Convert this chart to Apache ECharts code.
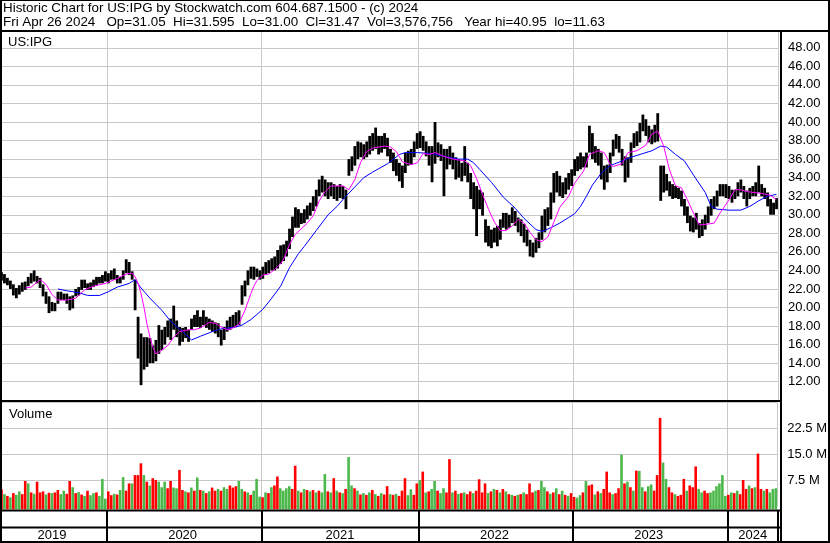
<!DOCTYPE html>
<html><head><meta charset="utf-8">
<script src="https://cdn.jsdelivr.net/npm/echarts@6/dist/echarts.min.js"></script>
<style>html,body{margin:0;padding:0;background:#fff}#c{width:830px;height:543px}</style>
</head><body><div id="c"></div>
<script>
// ---- data (weekly) ----
const firstWeek = '2019-04-26';
const headerLine1 = 'Historic Chart for US:IPG by Stockwatch.com 604.687.1500 - (c) 2024';
const headerLine2 = 'Fri Apr 26 2024   Op=31.05  Hi=31.595  Lo=31.00  Cl=31.47  Vol=3,576,756   Year hi=40.95  lo=11.63';
const symbolLabel = 'US:IPG';
const volumeLabel = 'Volume';

const weekHigh = [
23.8,23.6,23.2,22.9,22.5,22.1,22.4,22.7,22.8,23.3,
23.7,24.0,23.4,23.2,22.5,21.7,21.2,20.6,20.5,21.7,
21.7,21.5,21.5,21.2,21.3,22.0,22.2,23.0,23.0,22.6,
22.7,23.0,23.3,23.3,23.5,23.9,23.7,24.0,24.2,23.5,
23.3,24.0,25.2,24.9,23.9,23.0,19.0,17.2,16.8,16.8,
16.7,15.9,16.5,18.1,17.6,17.9,18.6,18.8,20.2,18.6,
17.9,17.8,17.9,17.6,18.8,19.2,19.7,19.0,19.7,19.0,
18.8,18.6,18.4,18.3,17.6,17.9,18.6,19.0,19.2,19.5,
19.7,22.4,22.9,24.0,24.4,24.4,24.2,24.0,24.4,24.9,
25.1,25.3,25.5,26.2,26.7,26.8,27.2,28.5,29.8,30.8,
30.6,30.2,30.6,31.0,31.3,32.0,32.7,33.8,34.2,33.8,
33.5,33.5,33.3,33.1,33.3,33.1,32.7,36.0,36.3,37.4,
37.9,37.8,37.6,37.9,38.5,38.8,39.4,38.5,38.5,38.8,
38.3,37.1,36.7,36.0,35.6,35.3,36.7,36.9,37.1,37.9,
38.8,39.0,38.5,37.9,37.4,37.4,40.0,37.8,37.6,37.1,
37.1,37.4,36.7,36.2,36.0,35.6,37.4,35.6,34.5,33.5,
33.1,32.7,32.4,29.5,28.8,28.4,28.6,28.8,29.5,30.2,
30.2,30.0,30.8,30.4,29.7,29.5,29.0,28.4,27.3,27.0,
27.5,28.1,29.9,30.6,30.8,32.4,34.5,34.7,34.2,33.5,
34.0,34.5,34.9,36.0,36.3,36.7,36.3,36.7,39.6,38.8,
37.4,37.1,36.7,35.3,35.4,36.7,38.1,38.7,38.5,37.1,
36.3,36.2,37.8,38.8,39.0,39.9,40.8,40.3,39.6,39.2,
39.7,40.95,35.3,35.3,34.4,33.6,33.3,33.1,32.9,32.6,
31.7,30.9,29.9,29.7,30.2,29.1,29.5,30.0,30.9,31.7,
32.0,32.6,33.3,33.3,33.3,33.1,32.7,32.7,33.5,33.8,
33.1,32.6,32.9,33.1,33.5,35.3,33.3,32.9,32.4,31.7,
31.3,31.8];

const weekLow = [
22.9,22.6,22.4,22.0,21.3,21.0,21.4,21.7,21.9,22.3,
22.6,22.8,22.6,22.1,21.2,20.4,19.4,19.6,19.6,20.4,
20.8,20.8,20.4,19.7,19.9,21.2,21.3,21.9,22.1,21.9,
21.9,22.2,22.4,22.6,22.6,22.8,22.6,23.0,23.0,22.6,
22.6,23.0,23.7,23.5,23.0,19.7,14.5,11.63,13.3,13.6,
14.0,14.0,14.2,15.0,15.4,16.0,16.8,16.5,17.6,16.8,
15.9,16.3,16.7,16.3,17.6,17.9,17.9,17.8,18.1,17.8,
17.6,17.4,17.2,16.8,15.9,16.5,17.4,17.6,17.8,17.9,
18.1,20.3,21.2,22.4,23.1,23.0,23.3,23.0,23.1,23.5,
23.7,24.0,24.0,24.2,24.7,25.0,25.5,26.3,27.6,28.6,
28.6,29.0,29.1,29.5,29.9,30.4,30.9,32.0,32.4,32.0,
31.7,32.0,31.7,31.5,31.8,31.7,30.6,34.2,34.7,35.3,
36.0,36.2,36.0,36.2,36.5,36.9,37.1,36.5,36.7,37.1,
36.3,35.6,34.7,34.2,33.6,32.9,34.5,35.3,35.4,36.2,
37.1,37.2,36.9,36.3,35.3,33.5,35.5,36.2,35.8,32.0,
34.9,35.4,34.9,33.8,34.0,33.6,34.2,33.5,31.7,30.6,
27.7,30.6,29.9,27.0,26.6,26.4,27.0,26.6,27.3,28.6,
28.4,28.6,29.1,28.8,28.1,27.7,27.0,26.6,25.5,25.4,
25.9,26.4,27.3,28.1,28.8,29.5,31.3,32.4,32.0,31.8,
32.2,32.7,33.1,34.2,34.7,34.9,35.1,35.1,36.7,36.0,
35.6,35.3,33.8,32.7,33.5,34.5,36.3,37.1,36.7,35.3,
33.5,34.0,35.6,37.2,37.4,37.8,39.0,38.5,37.8,37.6,
37.8,37.9,31.5,32.4,32.6,32.0,31.7,31.8,31.7,30.9,
29.9,29.1,28.2,28.1,28.4,27.5,27.7,28.4,29.1,29.9,
30.6,30.9,32.0,32.0,31.8,31.7,31.3,31.7,32.0,32.4,
31.7,30.9,31.7,32.0,32.0,32.4,32.0,31.7,30.9,30.0,
30.0,30.6];

// moving averages: [week index, value]
const magentaMA = [[8,22.1],[10,22.2],[13,23.0],[15,22.5],[17,21.4],[19,20.8],[22,20.8],[25,21.0],[28,21.9],[31,22.3],[35,22.6],[38,23.0],[40,23.3],[42,23.6],[44,23.7],[45,23.3],[46,22.6],[47,21.5],[48,20.0],[49,18.2],[50,16.8],[51,15.7],[52,15.0],[54,15.4],[56,15.9],[58,16.8],[60,17.4],[63,17.6],[65,17.6],[67,17.8],[70,18.4],[72,18.3],[74,17.9],[76,17.6],[78,17.8],[80,18.2],[81,19.0],[82,19.7],[83,20.6],[84,21.5],[85,22.3],[86,22.9],[88,23.5],[90,23.6],[92,24.1],[94,24.7],[95,25.2],[97,26.8],[99,27.9],[103,29.1],[105,29.9],[107,31.5],[109,32.5],[111,33.1],[115,33.1],[117,32.7],[119,33.8],[121,35.7],[123,36.8],[125,37.2],[129,37.4],[131,37.3],[133,36.8],[135,35.7],[138,35.4],[140,35.6],[142,36.6],[144,36.5],[146,36.7],[149,36.3],[152,36.0],[156,35.8],[158,35.3],[160,33.9],[162,32.2],[164,30.6],[166,29.2],[168,28.3],[170,28.3],[172,28.8],[174,29.5],[176,29.1],[178,28.1],[180,27.3],[182,27.1],[184,27.6],[186,29.2],[188,30.8],[191,32.0],[193,33.4],[196,34.7],[198,36.5],[201,36.9],[203,36.7],[205,35.4],[206,35.2],[209,35.5],[211,36.7],[214,36.9],[217,37.5],[219,38.7],[221,39.0],[223,37.4],[225,34.8],[227,33.1],[229,32.9],[231,31.6],[233,30.2],[235,28.9],[238,29.0],[240,29.1],[242,30.2],[245,31.6],[247,32.7],[249,32.7],[251,32.5],[256,32.3],[259,32.1],[261,31.6]];

const blueMA = [[19,22.0],[22,21.8],[26,21.6],[29,21.3],[33,21.3],[36,21.7],[39,22.2],[43,22.6],[45,23.0],[47,22.1],[50,21.0],[54,19.7],[57,18.5],[61,17.4],[64,16.5],[67,16.9],[71,17.4],[74,17.7],[79,17.9],[81,18.1],[84,18.7],[88,19.8],[91,21.0],[94,22.3],[97,24.3],[100,25.8],[102,26.6],[106,28.3],[110,30.0],[113,30.9],[116,32.0],[119,33.0],[122,34.0],[125,34.6],[130,35.5],[134,36.5],[136,36.7],[140,36.7],[145,36.6],[149,36.3],[154,36.0],[157,36.0],[159,35.6],[161,34.9],[165,33.5],[169,31.9],[173,30.7],[176,29.6],[180,28.4],[182,28.2],[185,28.6],[188,29.1],[191,29.7],[193,30.1],[195,30.9],[197,32.0],[199,33.2],[202,34.5],[205,35.3],[209,35.8],[212,36.2],[216,36.6],[219,36.9],[222,37.4],[224,37.3],[227,36.5],[230,35.8],[233,34.3],[237,32.4],[239,30.9],[241,30.6],[245,30.5],[249,30.5],[252,30.9],[255,31.5],[258,32.0],[261,32.2]];

// weekly volume in millions, and its colour (r = down, g = up)
const volumeM = [
4.9,3.5,3.0,2.6,3.8,3.3,4.3,3.5,7.3,6.6,
4.0,3.6,7.1,4.0,4.3,3.4,3.9,3.8,4.0,4.7,
3.5,4.5,3.6,7.3,5.5,3.8,4.1,3.4,3.0,4.5,
3.2,3.8,4.0,3.0,7.9,2.2,4.3,3.2,3.6,3.4,
4.7,8.4,4.5,6.6,6.6,9.0,9.0,12.4,9.0,7.1,
6.0,8.1,7.6,7.1,5.5,7.1,5.2,7.3,5.4,5.2,
10.5,4.7,4.3,4.0,5.4,4.5,8.3,4.7,4.5,3.8,
4.3,5.4,4.5,5.0,4.5,5.5,5.0,6.0,5.4,5.8,
7.3,5.0,4.3,4.0,3.3,4.5,7.9,2.8,2.6,4.0,
3.8,5.5,6.0,8.6,5.2,4.5,5.2,5.8,5.0,11.7,
4.5,4.0,5.0,4.7,4.3,4.7,4.0,4.5,4.0,9.3,
4.3,4.0,8.1,4.5,4.0,3.8,5.0,14.2,6.0,5.2,
4.5,3.4,3.8,3.3,4.0,4.7,3.5,3.0,3.8,3.4,
5.8,3.5,3.3,3.6,3.0,4.5,8.1,3.2,4.9,3.3,
6.6,7.6,10.0,4.0,4.3,5.0,7.3,4.5,3.8,5.2,
4.0,13.6,4.0,4.5,3.6,3.8,4.0,3.5,4.3,3.8,
4.5,7.8,4.0,6.6,3.8,4.3,5.0,4.7,4.0,5.0,
4.3,3.5,3.3,3.0,3.3,3.5,4.0,3.5,6.6,4.0,
4.5,4.7,7.3,5.5,4.3,3.6,4.0,5.2,3.5,4.5,
3.3,3.0,3.8,2.7,2.5,3.2,4.0,7.3,6.0,6.3,
3.4,4.3,3.8,5.0,10.0,4.0,3.5,3.8,5.2,14.9,
6.6,7.1,5.5,4.5,10.3,10.2,5.5,4.3,5.8,6.3,
4.5,9.0,25.5,12.6,7.9,5.5,4.0,3.5,3.0,3.3,
7.9,4.5,6.0,5.5,11.5,5.0,4.0,4.5,3.8,4.0,
4.5,5.8,6.6,9.0,3.0,3.3,4.0,3.8,4.5,3.5,
7.6,5.0,6.0,5.2,5.5,15.2,5.0,4.5,5.0,4.0,
5.0,5.2];

const volumeDir = (
'rgrgrggrrg'+'rgrrrgrgrr'+'ggrrgrgrgr'+'ggrgggrrgr'+'ggrrgrrrgr'+
'grrgggrrgg'+'rrgrgrgrgr'+'grrgrggrrr'+'ggrgrgggrg'+'rgrrggggrr'+
'grgrgrgrgg'+'rgrgrgrggr'+'grgrgrgrgr'+'rgrgrrrggr'+'rgrgrggrgg'+
'rrgrgrgrrg'+'rrrrgrgrgr'+'grgrgrgrrr'+'grggrgrgrg'+'rgrrggrgrr'+
'grgrrrgrrg'+'rgrgrggrgg'+'rrrggrrgrr'+'rgrrrggrrg'+'gggggrgrgr'+
'rrgrgrrgrg'+'gg').split('');

// ---- derived categories ----
const N = weekHigh.length;
const weeks = [];
(function(){ let t = Date.parse(firstWeek + 'T00:00:00Z'); for (let i = 0; i < N; i++) { weeks.push(new Date(t).toISOString().slice(0,10)); t += 7*86400000; } })();
const yearStarts = [];
for (let i = 1; i < N; i++) if (weeks[i].slice(0,4) !== weeks[i-1].slice(0,4)) yearStarts.push(i);
const yearSet = new Set(yearStarts);
const bounds = [0].concat(yearStarts, [N]);
const yearMid = new Set();
for (let k = 0; k < bounds.length - 1; k++) yearMid.add(Math.floor((bounds[k] + bounds[k+1] - 1) / 2));

const FONT = '"Liberation Sans", Arial, sans-serif';
const GRIDC = '#c8c8c8';

function xCat(gridIndex, extra) {
  return Object.assign({
    type: 'category', gridIndex: gridIndex, data: weeks, boundaryGap: true,
    axisLine: {show: false}, axisTick: {show: false}, axisLabel: {show: false},
    splitLine: {show: true, interval: (i) => yearSet.has(i), lineStyle: {color: GRIDC, width: 1}}
  }, extra || {});
}

const chart = echarts.init(document.getElementById('c'), null, {renderer: 'canvas', width: 830, height: 543});

const priceData = weekHigh.map((h, i) => [i, weekLow[i], h]);
const volData = volumeM.map((v, i) => [i, v, volumeDir[i] === 'r' ? 1 : 0]);

function hline(y, x1, x2, w) { return {type: 'line', z: 100, shape: {x1: x1, y1: y, x2: x2, y2: y}, style: {stroke: '#000', lineWidth: w}}; }
function vline(x, y1, y2, w) { return {type: 'line', z: 100, shape: {x1: x, y1: y1, x2: x, y2: y2}, style: {stroke: '#000', lineWidth: w}}; }
function txt(x, y, s, fs) { return {type: 'text', z: 101, x: x, y: y, style: {text: s, fill: '#000', fontSize: fs || 13, fontFamily: FONT, align: 'left', verticalAlign: 'middle'}}; }

chart.setOption({
  animation: false,
  backgroundColor: '#fff',
  grid: [
    {left: 0, top: 29.25, width: 778, height: 371},
    {left: 0, top: 402.3, width: 778, height: 104},
    {left: 0, top: 511, width: 778, height: 31}
  ],
  xAxis: [
    xCat(0), xCat(1),
    xCat(2, {
      splitLine: {show: true, interval: (i) => yearSet.has(i), lineStyle: {color: '#000', width: 2}},
      axisLabel: {show: true, inside: true, interval: (i) => yearMid.has(i), formatter: (v) => v.slice(0,4),
        margin: 7, verticalAlign: 'middle', color: '#000', fontSize: 13, fontFamily: FONT}
    })
  ],
  yAxis: [
    {type: 'value', gridIndex: 0, position: 'right', offset: 3, min: 10, max: 50, interval: 2,
     axisLine: {show: false}, axisTick: {show: false},
     axisLabel: {margin: 7, formatter: (v) => v.toFixed(2), showMinLabel: false, showMaxLabel: false, color: '#000', fontSize: 13, fontFamily: FONT},
     splitLine: {show: true, lineStyle: {color: GRIDC, width: 1}}},
    {type: 'value', gridIndex: 1, position: 'right', offset: 3, min: 0, max: 30, interval: 7.5,
     axisLine: {show: false}, axisTick: {show: false},
     axisLabel: {margin: 7, formatter: (v) => v.toFixed(1) + ' M', showMinLabel: false, showMaxLabel: false, color: '#000', fontSize: 13, fontFamily: FONT},
     splitLine: {show: true, lineStyle: {color: GRIDC, width: 1}}},
    {type: 'value', gridIndex: 2, show: false, splitLine: {show: false}}
  ],
  series: [
    {type: 'custom', xAxisIndex: 0, yAxisIndex: 0, data: priceData, encode: {x: 0, y: [1, 2]}, z: 2,
     renderItem: function (params, api) {
       const i = api.value(0);
       const top = api.coord([i, api.value(2)]);
       const bot = api.coord([i, api.value(1)]);
       return {type: 'rect', shape: {x: top[0] - 1.4, y: top[1], width: 2.8, height: Math.max(1, bot[1] - top[1])}, style: {fill: '#000'}};
     }},
    {type: 'line', xAxisIndex: 0, yAxisIndex: 0, data: blueMA, showSymbol: false, symbol: 'none', z: 4,
     lineStyle: {color: '#0000ff', width: 1}},
    {type: 'line', xAxisIndex: 0, yAxisIndex: 0, data: magentaMA, showSymbol: false, symbol: 'none', z: 5,
     lineStyle: {color: '#ff00ff', width: 1}},
    {type: 'custom', xAxisIndex: 1, yAxisIndex: 1, data: volData, encode: {x: 0, y: 1}, z: 2,
     renderItem: function (params, api) {
       const i = api.value(0);
       const p = api.coord([i, api.value(1)]);
       const base = params.coordSys.y + params.coordSys.height + 3;
       return {type: 'rect', shape: {x: p[0] - 1.3, y: p[1], width: 2.6, height: base - p[1]},
               style: {fill: api.value(2) ? '#ff0000' : '#4cb84c'}};
     }}
  ],
  graphic: [
    {type: 'rect', z: 99, shape: {x: 0, y: 0, width: 830, height: 31}, style: {fill: '#fff'}},
    hline(0.5, 0, 830, 1),
    hline(31, 0, 830, 2),
    vline(1, 0, 543, 2),
    vline(829, 0, 543, 2),
    hline(542, 0, 830, 2),
    vline(781, 31, 543, 2),
    hline(401, 0, 781, 2),
    hline(510.5, 0, 781, 2),
    hline(527.5, 0, 781, 2),
    txt(3, 8, headerLine1, 13.4),
    txt(3, 22, headerLine2, 13.4),
    txt(8, 42, symbolLabel),
    txt(9, 414, volumeLabel)
  ]
});
</script></body></html>
